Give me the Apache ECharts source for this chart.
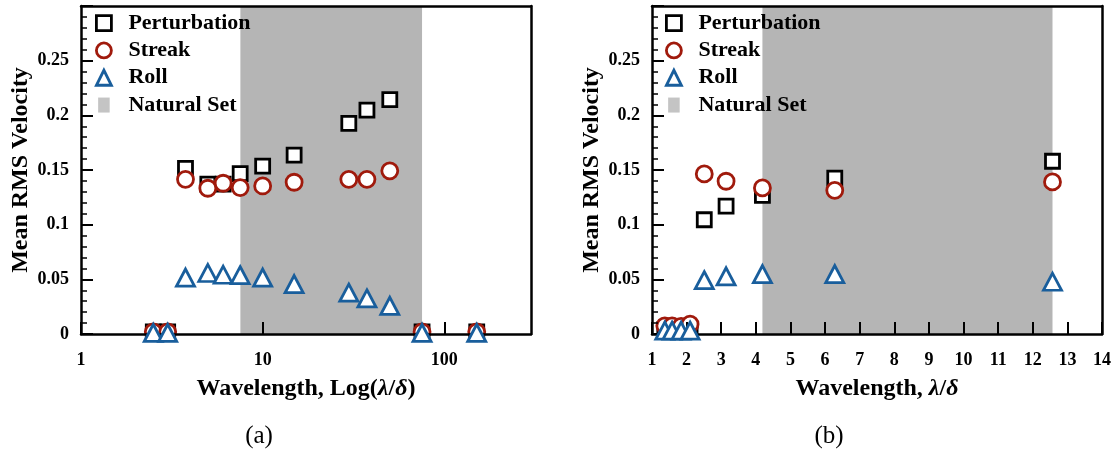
<!DOCTYPE html>
<html>
<head>
<meta charset="utf-8">
<script src="https://cdn.jsdelivr.net/npm/echarts@6/dist/echarts.min.js"></script>
<style>
  html, body { margin: 0; padding: 0; background: #fff; }
  #chart { width: 1117px; height: 451px; }
</style>
</head>
<body>
<div id="chart"></div>
<script>
// ---------- Data: panel (a) ----------
const xA = [2.5, 3.0, 3.76, 4.99, 6.06, 7.52, 10, 14.9, 29.8, 37.5, 50.1, 75.4, 150.8];
const perturbationA = [0.002, 0.002, 0.1514, 0.137, 0.137, 0.1466, 0.1535, 0.1636, 0.1927, 0.2047, 0.2144, 0.002, 0.002];
const streakA = [0.002, 0.002, 0.1415, 0.1333, 0.1379, 0.1339, 0.1354, 0.1388, 0.1415, 0.1415, 0.1492, 0.002, 0.002];
const rollA = [0.001, 0.001, 0.0516, 0.0558, 0.0542, 0.0538, 0.0516, 0.0457, 0.0378, 0.0325, 0.0257, 0.001, 0.001];
const naturalSetA = [7.54, 75.4];

// ---------- Data: panel (b) ----------
const xB = [1.37, 1.58, 1.84, 2.10, 2.51, 3.14, 4.19, 6.28, 12.57];
const perturbationB = [0.004, 0.004, 0.004, 0.004, 0.1045, 0.117, 0.1268, 0.1425, 0.158];
const streakB = [0.0075, 0.0075, 0.007, 0.009, 0.1464, 0.1397, 0.1336, 0.1314, 0.1391];
const rollB = [0.003, 0.003, 0.003, 0.003, 0.0492, 0.0527, 0.0548, 0.0548, 0.0478];
const naturalSetB = [4.19, 12.57];

// ---------- Axis ticks ----------
const yMin = 0, yMax = 0.3, yInterval = 0.05;
const xBMin = 1, xBMax = 14, xBInterval = 1;
const xAMin = 1, xAMax = 300;
const xALabels = [1, 10, 100];

const names = ['Perturbation', 'Streak', 'Roll', 'Natural Set'];
const labels = ['(a)', '(b)'];

const FONT = '"Liberation Serif", "Times New Roman", serif';
const BLACK = '#000000';
const RED = '#a01a0c';
const BLUE = '#195e9c';
const GRAY = '#b5b5b5';

function pairs(xs, ys) { return xs.map((x, i) => [x, ys[i]]); }

const frameLine = { show: true, onZero: false, lineStyle: { color: '#000', width: 2.5 } };

function yAxisMain(gi) {
  return {
    gridIndex: gi, type: 'value', min: yMin, max: yMax, interval: yInterval, z: 5,
    name: 'Mean RMS Velocity', nameLocation: 'middle', nameGap: 48,
    nameTextStyle: { fontFamily: FONT, fontWeight: 'bold', fontSize: 24, color: '#000' },
    axisLine: frameLine,
    axisTick: { show: true, inside: true, length: 12, lineStyle: { color: '#000', width: 2 } },
    minorTick: { show: true, splitNumber: 5, length: 6, lineStyle: { color: '#000', width: 1.5 } },
    axisLabel: { show: true, margin: 12, showMaxLabel: false, fontFamily: FONT, fontWeight: 'bold', fontSize: 18, color: '#000' },
    splitLine: { show: false }, minorSplitLine: { show: false }
  };
}
function yAxisFrame(gi) {
  return {
    gridIndex: gi, type: 'value', min: yMin, max: yMax, interval: yInterval, position: 'right', z: 5,
    axisLine: frameLine,
    axisTick: { show: false }, axisLabel: { show: false }, splitLine: { show: false }
  };
}
const xNameStyle = {
  fontFamily: FONT, fontWeight: 'bold', fontSize: 24, color: '#000',
  rich: { i: { fontFamily: FONT, fontWeight: 'bold', fontStyle: 'italic', fontSize: 24, color: '#000' } }
};

const seriesStyle = [
  { symbol: 'rect', size: 14, color: BLACK },
  { symbol: 'circle', size: 16, color: RED },
  { symbol: 'triangle', size: [18, 17], color: BLUE }
];

function markerSeries(idx, gi, xs, ys) {
  const s = seriesStyle[idx];
  return {
    name: names[idx], type: 'scatter', xAxisIndex: gi * 2, yAxisIndex: gi * 2,
    symbol: s.symbol, symbolSize: s.size, z: 3 + idx,
    itemStyle: { color: '#ffffff', borderColor: s.color, borderWidth: 2.8, opacity: 1 },
    emphasis: { disabled: true },
    data: pairs(xs, ys)
  };
}
function bandSeries(gi, band) {
  return {
    name: names[3], type: 'scatter', xAxisIndex: gi * 2, yAxisIndex: gi * 2,
    symbol: 'rect', data: [], z: 1,
    itemStyle: { color: GRAY, borderColor: GRAY, borderWidth: 0 },
    markArea: {
      silent: true,
      itemStyle: { color: GRAY, opacity: 1, borderWidth: 0 },
      data: [[{ xAxis: band[0] }, { xAxis: band[1] }]]
    }
  };
}
function legendFor(leftPx) {
  return {
    orient: 'vertical', left: leftPx, top: 4.5, itemWidth: 15, itemHeight: 15, itemGap: 0,
    selectedMode: false,
    itemStyle: { borderWidth: 2.8 },
    textStyle: { fontFamily: FONT, fontWeight: 'bold', fontSize: 22, color: '#000', lineHeight: 27.3, padding: [0, 0, 0, 12] },
    data: [
      { name: names[0] }, { name: names[1] }, { name: names[2] },
      { name: names[3], icon: 'path://M0,0 H10 V13 H0 Z', itemStyle: { color: GRAY, borderWidth: 0 } }
    ]
  };
}

const option = {
  animation: false,
  backgroundColor: '#ffffff',
  grid: [
    { left: 81, top: 6, width: 450, height: 328, outerBoundsMode: 'none', containLabel: false },
    { left: 652, top: 6, width: 450, height: 328, outerBoundsMode: 'none', containLabel: false }
  ],
  xAxis: [
    {
      gridIndex: 0, type: 'log', logBase: 10, min: xAMin, max: xAMax, z: 5,
      name: 'Wavelength, Log({i|λ}/{i|δ})', nameLocation: 'middle', nameGap: 43, nameTextStyle: xNameStyle,
      axisLine: frameLine,
      axisTick: { show: true, inside: true, length: 12, lineStyle: { color: '#000', width: 2 } },
      minorTick: { show: false },
      axisLabel: {
        show: true, margin: 17, fontFamily: FONT, fontWeight: 'bold', fontSize: 18, color: '#000',
        showMaxLabel: false,
        formatter: function (v) { const r = Math.round(v); return xALabels.indexOf(r) >= 0 ? String(r) : ''; }
      },
      splitLine: { show: false }
    },
    {
      gridIndex: 0, type: 'log', logBase: 10, min: xAMin, max: xAMax, position: 'top', z: 5,
      axisLine: frameLine,
      axisTick: { show: false }, axisLabel: { show: false }, splitLine: { show: false }
    },
    {
      gridIndex: 1, type: 'value', min: xBMin, max: xBMax, interval: xBInterval, z: 5,
      name: 'Wavelength, {i|λ}/{i|δ}', nameLocation: 'middle', nameGap: 43, nameTextStyle: xNameStyle,
      axisLine: frameLine,
      axisTick: { show: true, inside: true, length: 12, lineStyle: { color: '#000', width: 2 } },
      axisLabel: { show: true, margin: 17, fontFamily: FONT, fontWeight: 'bold', fontSize: 18, color: '#000' },
      splitLine: { show: false }
    },
    {
      gridIndex: 1, type: 'value', min: xBMin, max: xBMax, interval: xBInterval, position: 'top', z: 5,
      axisLine: frameLine,
      axisTick: { show: false }, axisLabel: { show: false }, splitLine: { show: false }
    }
  ],
  yAxis: [yAxisMain(0), yAxisFrame(0), yAxisMain(1), yAxisFrame(1)],
  legend: [legendFor(90), legendFor(660)],
  series: [
    bandSeries(0, naturalSetA),
    markerSeries(0, 0, xA, perturbationA),
    markerSeries(1, 0, xA, streakA),
    markerSeries(2, 0, xA, rollA),
    bandSeries(1, naturalSetB),
    markerSeries(0, 1, xB, perturbationB),
    markerSeries(1, 1, xB, streakB),
    markerSeries(2, 1, xB, rollB)
  ],
  graphic: [
    { type: 'text', style: { text: labels[0], x: 259, y: 436, align: 'center', verticalAlign: 'middle', fontFamily: FONT, fontSize: 25, fill: '#000' } },
    { type: 'text', style: { text: labels[1], x: 829, y: 436, align: 'center', verticalAlign: 'middle', fontFamily: FONT, fontSize: 25, fill: '#000' } }
  ]
};

const chart = echarts.init(document.getElementById('chart'), null, { renderer: 'canvas' });
chart.setOption(option);
</script>
</body>
</html>
